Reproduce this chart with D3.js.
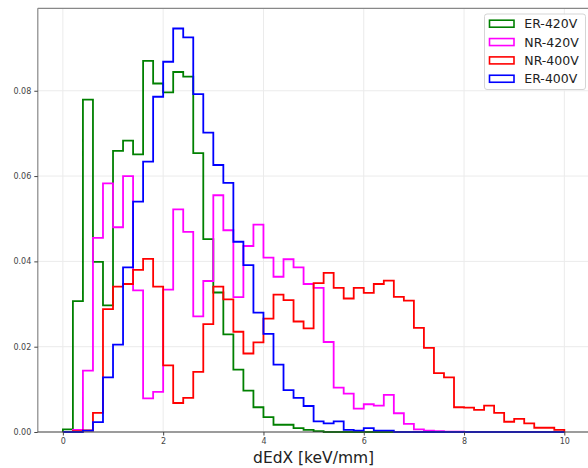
<!DOCTYPE html>
<html>
<head>
<meta charset="utf-8">
<script src="https://cdn.jsdelivr.net/npm/d3@7"></script>
<style>
  html, body { margin: 0; padding: 0; background: #fff; }
  svg { display: block; font-family: "DejaVu Sans", sans-serif; }
</style>
</head>
<body>
<svg id="chart" width="588" height="468"></svg>
<script>
// Bin edges: 0 to 10 in 50 bins of 0.2
const binStart = 0, binWidth = 0.2, binCount = 50;

const seriesNames = ["ER-420V", "NR-420V", "NR-400V", "ER-400V"];
const seriesColors = ["#008000", "#ff00ff", "#ff0000", "#0000ff"];

const er420 = [0.0006,0.0307,0.0779,0.0399,0.0297,0.0659,0.0683,0.0651,0.0870,0.0817,
  0.0796,0.0844,0.0833,0.0654,0.0452,0.0327,0.0229,0.0146,0.0097,0.0058,
  0.0035,0.0017,0.0017,0.0009,0.0005,0.0002,0,0,0,0,
  0,0,0,0,0,0,0,0,0,0, 0,0,0,0,0,0,0,0,0,0];
const nr420 = [0,0.0005,0.0144,0.0455,0.0583,0.0480,0.0600,0.0332,0.0079,0.0094,
  0.0334,0.0522,0.0469,0.0271,0.0354,0.0555,0.0473,0.0316,0.0436,0.0486,
  0.0409,0.0364,0.0405,0.0386,0.0347,0.0338,0.0211,0.0104,0.0090,0.0055,
  0.0065,0.0062,0.0087,0.0044,0.0019,0.0006,0.0003,0.0002,0.0001,0.0001,
  0,0,0,0,0,0,0,0,0,0];
const nr400 = [0,0.0002,0.0004,0.0045,0.0288,0.0341,0.0347,0.0380,0.0406,0.0341,
  0.0156,0.0068,0.0080,0.0141,0.0253,0.0341,0.0311,0.0235,0.0184,0.0210,
  0.0266,0.0322,0.0309,0.0259,0.0243,0.0349,0.0373,0.0338,0.0313,0.0338,
  0.0326,0.0347,0.0355,0.0317,0.0308,0.0244,0.0197,0.0138,0.0128,0.0058,
  0.0057,0.0052,0.0062,0.0045,0.0024,0.0031,0.0020,0.0010,0.0010,0.0005];
const er400 = [0,0,0.0003,0.0023,0.0128,0.0205,0.0386,0.0540,0.0634,0.0786,
  0.0868,0.0946,0.0925,0.0792,0.0702,0.0626,0.0584,0.0446,0.0391,0.0280,
  0.0230,0.0158,0.0098,0.0080,0.0061,0.0025,0.0020,0.0025,0.0005,0.0003,
  0.0009,0.0003,0.0003,0,0,0,0,0,0,0, 0,0,0,0,0,0,0,0,0,0];

const xTicks = [0, 2, 4, 6, 8, 10];
const yTicks = [0, 0.02, 0.04, 0.06, 0.08];
const xLabel = "dEdX [keV/mm]";

const seriesValues = [er420, nr420, nr400, er400];

(function () {
const svg = d3.select("#chart");
const pL = 37.8, pR = 589.4, pT = 8.3, pB = 432;

const xMin = binStart, xMax = binStart + binWidth * binCount;
const xPad = (xMax - xMin) * 0.05;
const x = d3.scaleLinear().domain([xMin - xPad, xMax + xPad]).range([pL, pR]);
const yMax = d3.max(seriesValues, s => d3.max(s)) * 1.05;
const y = d3.scaleLinear().domain([0, yMax]).range([pB, pT]);

// gridlines
const grid = svg.append("g");
grid.selectAll("line.gx").data(xTicks).join("line")
  .attr("x1", d => x(d)).attr("x2", d => x(d))
  .attr("y1", pT).attr("y2", pB)
  .attr("stroke", "#ebebeb").attr("stroke-width", 1);
grid.selectAll("line.gy").data(yTicks).join("line")
  .attr("x1", pL).attr("x2", pR)
  .attr("y1", d => y(d)).attr("y2", d => y(d))
  .attr("stroke", "#ebebeb").attr("stroke-width", 1);

// histograms (step)
function stepPoints(vals) {
  const pts = [[binStart, 0]];
  vals.forEach((v, i) => {
    const x0 = binStart + i * binWidth, x1 = x0 + binWidth;
    pts.push([x0, v]); pts.push([x1, v]);
  });
  pts.push([binStart + vals.length * binWidth, 0]);
  return pts;
}
const line = d3.line().x(d => x(d[0])).y(d => y(d[1]));
seriesValues.forEach((vals, k) => {
  svg.append("path")
    .attr("d", line(stepPoints(vals)))
    .attr("fill", "none")
    .attr("stroke", seriesColors[k])
    .attr("stroke-width", 1.8)
    .attr("stroke-linejoin", "miter");
});

// spines
svg.append("line").attr("x1", pL).attr("x2", pL).attr("y1", pT).attr("y2", pB)
  .attr("stroke", "#888").attr("stroke-width", 1.2);
svg.append("line").attr("x1", pL).attr("x2", pR).attr("y1", pT).attr("y2", pT)
  .attr("stroke", "#888").attr("stroke-width", 1.2);
svg.append("line").attr("x1", pR).attr("x2", pR).attr("y1", pT).attr("y2", pB)
  .attr("stroke", "#888").attr("stroke-width", 1.2);

// axes
const xAxis = d3.axisBottom(x).tickValues(xTicks).tickFormat(d3.format("d")).tickSize(3.5).tickPadding(3);
const yAxis = d3.axisLeft(y).tickValues(yTicks).tickFormat(d3.format(".2f")).tickSize(3.5).tickPadding(3);

const gx = svg.append("g").attr("transform", `translate(0,${pB})`).call(xAxis);
gx.select(".domain").attr("stroke", "#444").attr("stroke-width", 1.2).attr("d", `M${pL},0H${pR}`);
gx.selectAll(".tick line").attr("stroke", "#444");
gx.selectAll(".tick text").attr("fill", "#444").style("font-size", "8px")
  .style("font-family", "'DejaVu Sans', sans-serif");

const gy = svg.append("g").attr("transform", `translate(${pL},0)`).call(yAxis);
gy.select(".domain").remove();
gy.selectAll(".tick line").attr("stroke", "#444");
gy.selectAll(".tick text").attr("fill", "#444").style("font-size", "8px")
  .style("font-family", "'DejaVu Sans', sans-serif");

// x label
svg.append("text")
  .attr("x", (pL + pR) / 2).attr("y", 462.5)
  .attr("text-anchor", "middle")
  .attr("fill", "#222")
  .style("font-size", "15.5px")
  .text(xLabel);

// legend
const lg = svg.append("g");
lg.append("rect")
  .attr("x", 484.5).attr("y", 14).attr("width", 101).attr("height", 75.5)
  .attr("rx", 2.5).attr("fill", "#fff").attr("fill-opacity", 0.85)
  .attr("stroke", "#d5d5d5").attr("stroke-width", 1);
seriesNames.forEach((name, k) => {
  const cy = 23.7 + k * 18.35;
  lg.append("rect")
    .attr("x", 489.5).attr("y", cy - 3.5).attr("width", 24.5).attr("height", 7)
    .attr("fill", "none").attr("stroke", seriesColors[k]).attr("stroke-width", 1.6);
  lg.append("text")
    .attr("x", 524.3).attr("y", cy + 4.5)
    .attr("fill", "#222")
    .style("font-size", "12.5px")
    .text(name);
});
})();
</script>
</body>
</html>
